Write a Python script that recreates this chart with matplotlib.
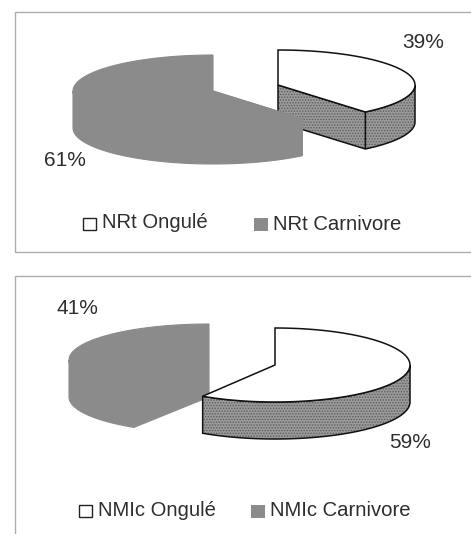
import numpy as np
import matplotlib
matplotlib.use("Agg")
import matplotlib.pyplot as plt
from matplotlib.patches import Rectangle

plt.rcParams["font.family"] = ["Liberation Sans", "DejaVu Sans"]
plt.rcParams["hatch.linewidth"] = 0.7

top_labels = ["NRt Ongulé", "NRt Carnivore"]
top_shares = [39, 61]
bottom_labels = ["NMIc Ongulé", "NMIc Carnivore"]
bottom_shares = [59, 41]

GREY = "#8b8b8b"
TEXT = "#2e2e2e"
FRAME = "#adadad"
DEPTH = 37


def arc(cx, cy, rx, ry, a0, a1):
    # angles in degrees, clockwise from 12 o'clock, y axis points down
    t = np.radians(np.linspace(a0, a1, 80))
    return cx + rx * np.sin(t), cy - ry * np.cos(t)


def top_face(cx, cy, rx, ry, a0, a1):
    x, y = arc(cx, cy, rx, ry, a0, a1)
    return np.r_[cx, x], np.r_[cy, y]


def outer_face(cx, cy, rx, ry, a0, a1):
    # only the front half of the rim can be seen
    lo, hi = max(a0, 90), min(a1, 270)
    x, y = arc(cx, cy, rx, ry, lo, hi)
    return np.r_[x, x[::-1]], np.r_[y, y[::-1] + DEPTH]


def cut_face(cx, cy, rx, ry, a):
    t = np.radians(a)
    px, py = cx + rx * np.sin(t), cy - ry * np.cos(t)
    return [cx, px, px, cx], [cy, py, py + DEPTH, cy + DEPTH]


def speckled(ax, xy):
    # dotted fill first, then the black outline on its own
    ax.fill(*xy, fc="#9a9a9a", ec="#5e5e5e", lw=0, hatch="......", zorder=3)
    ax.fill(*xy, fc="none", ec="#111111", lw=1.1, zorder=3)


def draw_white(ax, share, cx, cy, rx, ry):
    end = share * 3.6
    speckled(ax, outer_face(cx, cy, rx, ry, 0, end))
    if end < 180:
        speckled(ax, cut_face(cx, cy, rx, ry, end))
    ax.fill(*top_face(cx, cy, rx, ry, 0, end), fc="white", ec="#111111", lw=1.1, zorder=4)


def draw_grey(ax, share, cx, cy, rx, ry, z):
    start = 360 - share * 3.6
    for xy in [outer_face(cx, cy, rx, ry, start, 360),
               cut_face(cx, cy, rx, ry, start),
               top_face(cx, cy, rx, ry, start, 360)]:
        # same colour edge so no seams show between the faces
        ax.fill(*xy, fc=GREY, ec=GREY, lw=0.8, zorder=z)


def legend(ax, labels, x1, x2, y):
    ax.add_patch(Rectangle((x1, y - 6), 13, 12, fc="white", ec="#222222", lw=1.0, zorder=5))
    ax.text(x1 + 19, y - 1, labels[0], fontsize=14.6, color=TEXT, va="center", zorder=5)
    ax.add_patch(Rectangle((x2, y - 6), 14, 13, fc=GREY, ec="none", zorder=5))
    ax.text(x2 + 19, y, labels[1], fontsize=14.6, color=TEXT, va="center", zorder=5)


fig = plt.figure(figsize=(4.71, 5.34), dpi=100)
ax = fig.add_axes([0, 0, 1, 1])
ax.set_xlim(0, 471)
ax.set_ylim(534, 0)
ax.axis("off")

# frames, both run off the right side, the lower one also off the bottom
ax.add_patch(Rectangle((15, 12), 480, 240, fc="white", ec=FRAME, lw=1.0))
ax.add_patch(Rectangle((15, 276), 480, 290, fc="white", ec=FRAME, lw=1.0))

# upper chart, the grey tip sits over the white slice
draw_white(ax, top_shares[0], 278, 85, 137, 35)
draw_grey(ax, top_shares[1], 213, 91, 140, 36, 5)
ax.text(423, 43, f"{top_shares[0]}%", fontsize=15, color=TEXT, ha="center", va="center")
ax.text(65, 160, f"{top_shares[1]}%", fontsize=15, color=TEXT, ha="center", va="center")
legend(ax, top_labels, 83, 254, 224)

# lower chart, the white slice sits over the grey one
draw_grey(ax, bottom_shares[1], 209, 360, 140, 36, 2)
draw_white(ax, bottom_shares[0], 275, 365, 135, 37)
ax.text(77, 308, f"{bottom_shares[1]}%", fontsize=15, color=TEXT, ha="center", va="center")
ax.text(410, 443, f"{bottom_shares[0]}%", fontsize=15, color=TEXT, ha="center", va="center")
legend(ax, bottom_labels, 79, 251, 511)

fig.savefig("out.png", dpi=100)
